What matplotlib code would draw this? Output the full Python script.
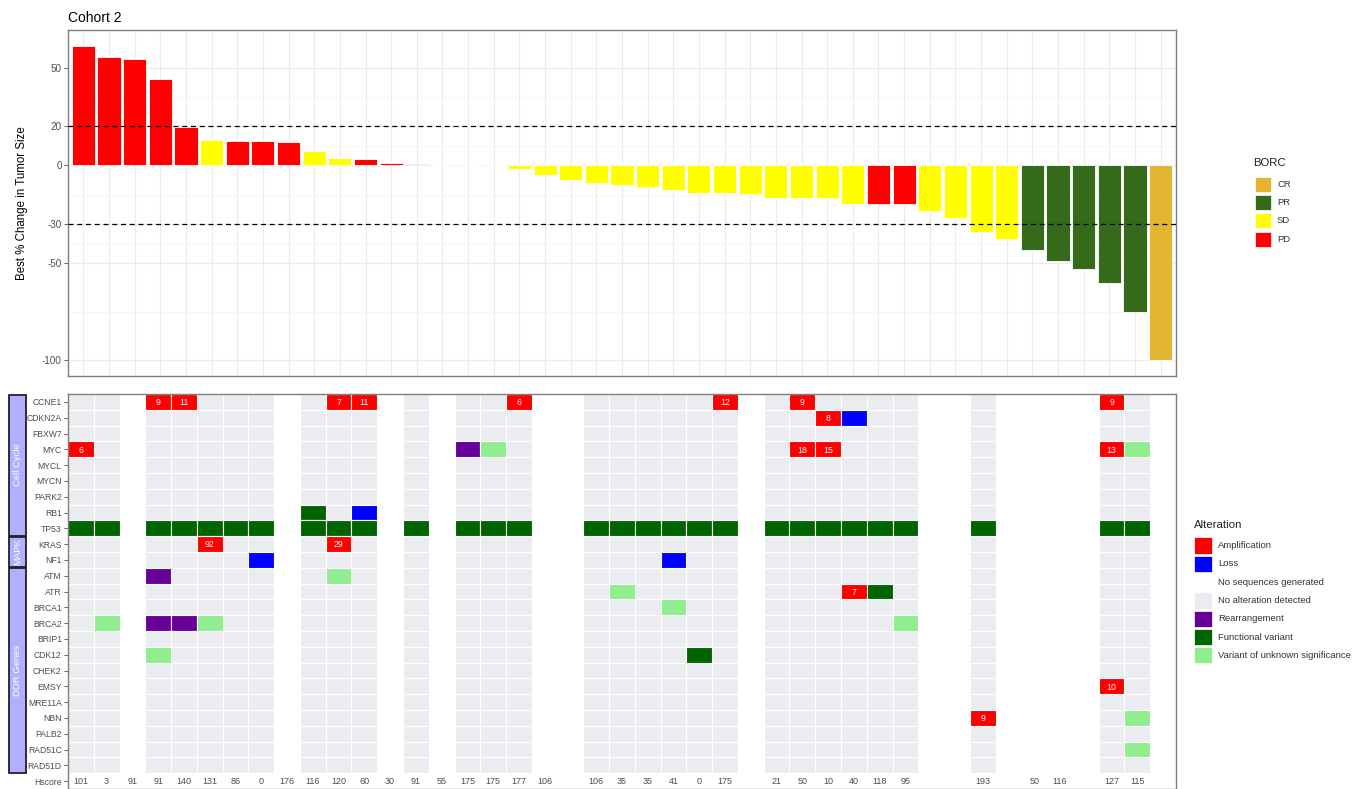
import matplotlib
matplotlib.use("Agg")
import matplotlib.pyplot as plt
from matplotlib.patches import Rectangle
import numpy as np

plt.rcParams['font.family'] = ['Liberation Sans', 'DejaVu Sans']

# ---------------- waterfall data ----------------
pct_change = [61.4, 55.8, 54.6, 44.2, 19.8, 13.0, 12.3, 12.3, 11.8, 7.3,
              3.9, 3.1, 1.2, 0.8, 0.0, 0.0, 0.0, -2.1, -5.1, -7.4,
              -8.9, -10.3, -11.3, -12.5, -14.1, -14.4, -14.6, -16.6, -16.6, -16.8,
              -19.7, -19.9, -19.7, -23.6, -27.1, -34.1, -37.9, -43.5, -49.0, -53.4,
              -60.5, -75.2, -100.0]
borc = ['PD', 'PD', 'PD', 'PD', 'PD', 'SD', 'PD', 'PD', 'PD', 'SD',
        'SD', 'PD', 'PD', 'PD', 'SD', 'SD', 'SD', 'SD', 'SD', 'SD',
        'SD', 'SD', 'SD', 'SD', 'SD', 'SD', 'SD', 'SD', 'SD', 'SD',
        'SD', 'PD', 'PD', 'SD', 'SD', 'SD', 'SD', 'PR', 'PR', 'PR',
        'PR', 'PR', 'CR']
borc_levels = ['CR', 'PR', 'SD', 'PD']
borc_colors = {'CR': '#E3B631', 'PR': '#356A1B', 'SD': '#FFFF00', 'PD': '#FF0000'}
y_breaks = [50, 20, 0, -30, -50, -100]
ref_lines = [20, -30]

# ---------------- alteration data ----------------
genes = ['CCNE1', 'CDKN2A', 'FBXW7', 'MYC', 'MYCL', 'MYCN', 'PARK2', 'RB1', 'TP53',
         'KRAS', 'NF1',
         'ATM', 'ATR', 'BRCA1', 'BRCA2', 'BRIP1', 'CDK12', 'CHEK2', 'EMSY', 'MRE11A',
         'NBN', 'PALB2', 'RAD51C', 'RAD51D']
pathways = [('Cell Cycle', 'CCNE1', 'TP53'), ('MAPK', 'KRAS', 'NF1'),
            ('DDR Genes', 'ATM', 'RAD51D')]
hscore = ['101', '3', '91', '91', '140', '131', '86', '0', '176', '116',
          '120', '60', '30', '91', '55', '175', '175', '177', '106', '',
          '106', '35', '35', '41', '0', '175', '', '21', '50', '10',
          '40', '118', '95', '', '', '193', '', '50', '116', '',
          '127', '115', '']
# patients with no sequencing result
not_sequenced = [2, 8, 12, 14, 18, 19, 26, 33, 34, 36, 37, 38, 39, 42]
# (patient, gene, alteration, copy number label)
alterations = [
    (0, 'MYC', 'Amplification', '6'), (0, 'TP53', 'Functional variant', ''),
    (1, 'TP53', 'Functional variant', ''), (1, 'BRCA2', 'Variant of unknown significance', ''),
    (3, 'CCNE1', 'Amplification', '9'), (3, 'TP53', 'Functional variant', ''),
    (3, 'ATM', 'Rearrangement', ''), (3, 'BRCA2', 'Rearrangement', ''),
    (3, 'CDK12', 'Variant of unknown significance', ''),
    (4, 'CCNE1', 'Amplification', '11'), (4, 'TP53', 'Functional variant', ''),
    (4, 'BRCA2', 'Rearrangement', ''),
    (5, 'TP53', 'Functional variant', ''), (5, 'KRAS', 'Amplification', '92'),
    (5, 'BRCA2', 'Variant of unknown significance', ''),
    (6, 'TP53', 'Functional variant', ''),
    (7, 'TP53', 'Functional variant', ''), (7, 'NF1', 'Loss', ''),
    (9, 'RB1', 'Functional variant', ''), (9, 'TP53', 'Functional variant', ''),
    (10, 'CCNE1', 'Amplification', '7'), (10, 'TP53', 'Functional variant', ''),
    (10, 'KRAS', 'Amplification', '29'), (10, 'ATM', 'Variant of unknown significance', ''),
    (11, 'CCNE1', 'Amplification', '11'), (11, 'RB1', 'Loss', ''),
    (11, 'TP53', 'Functional variant', ''),
    (13, 'TP53', 'Functional variant', ''),
    (15, 'MYC', 'Rearrangement', ''), (15, 'TP53', 'Functional variant', ''),
    (16, 'MYC', 'Variant of unknown significance', ''), (16, 'TP53', 'Functional variant', ''),
    (17, 'CCNE1', 'Amplification', '6'), (17, 'TP53', 'Functional variant', ''),
    (20, 'TP53', 'Functional variant', ''),
    (21, 'TP53', 'Functional variant', ''), (21, 'ATR', 'Variant of unknown significance', ''),
    (22, 'TP53', 'Functional variant', ''),
    (23, 'TP53', 'Functional variant', ''), (23, 'NF1', 'Loss', ''),
    (23, 'BRCA1', 'Variant of unknown significance', ''),
    (24, 'TP53', 'Functional variant', ''), (24, 'CDK12', 'Functional variant', ''),
    (25, 'CCNE1', 'Amplification', '12'), (25, 'TP53', 'Functional variant', ''),
    (27, 'TP53', 'Functional variant', ''),
    (28, 'CCNE1', 'Amplification', '9'), (28, 'MYC', 'Amplification', '18'),
    (28, 'TP53', 'Functional variant', ''),
    (29, 'CDKN2A', 'Amplification', '8'), (29, 'MYC', 'Amplification', '15'),
    (29, 'TP53', 'Functional variant', ''),
    (30, 'CDKN2A', 'Loss', ''), (30, 'TP53', 'Functional variant', ''),
    (30, 'ATR', 'Amplification', '7'),
    (31, 'TP53', 'Functional variant', ''), (31, 'ATR', 'Functional variant', ''),
    (32, 'TP53', 'Functional variant', ''), (32, 'BRCA2', 'Variant of unknown significance', ''),
    (35, 'TP53', 'Functional variant', ''), (35, 'NBN', 'Amplification', '9'),
    (40, 'CCNE1', 'Amplification', '9'), (40, 'MYC', 'Amplification', '13'),
    (40, 'TP53', 'Functional variant', ''), (40, 'EMSY', 'Amplification', '10'),
    (41, 'MYC', 'Variant of unknown significance', ''), (41, 'TP53', 'Functional variant', ''),
    (41, 'NBN', 'Variant of unknown significance', ''),
    (41, 'RAD51C', 'Variant of unknown significance', ''),
]
alt_levels = ['Amplification', 'Loss', 'No sequences generated', 'No alteration detected',
              'Rearrangement', 'Functional variant', 'Variant of unknown significance']
alt_colors = {'Amplification': '#FF0000', 'Loss': '#0000FF',
              'No sequences generated': '#FFFFFF', 'No alteration detected': '#EAECEF',
              'Rearrangement': '#660099', 'Functional variant': '#006400',
              'Variant of unknown significance': '#90EE90'}

# ---------------- figure ----------------
W, H = 1367, 789
fig = plt.figure(figsize=(W / 100, H / 100), dpi=100)


def px_axes(left, top, right, bottom):
    return fig.add_axes([left / W, 1 - bottom / H, (right - left) / W, (bottom - top) / H])


grey_txt = '#4D4D4D'
border = '#7F7F7F'

# ---- waterfall ----
ax = px_axes(68, 30, 1176, 376)
n = len(pct_change)
x = np.arange(n)
ax.bar(x, pct_change, width=0.9, color=[borc_colors[b] for b in borc],
       edgecolor='white', linewidth=0.6, zorder=3)
for r in ref_lines:
    ax.axhline(r, color='black', linestyle=(0, (4, 3)), linewidth=0.9, zorder=4)
lo, hi = min(pct_change), max(pct_change)
span = hi - lo
ax.set_ylim(lo - 0.05 * span, hi + 0.05 * span)
ax.set_xlim(-0.6, n - 0.4)
ax.set_yticks(y_breaks)
ax.set_yticklabels([str(v) for v in y_breaks])
sb = sorted(y_breaks)
ax.set_yticks([(a + b) / 2 for a, b in zip(sb[:-1], sb[1:])], minor=True)
ax.set_xticks(x)
ax.set_xticklabels([])
ax.tick_params(axis='x', length=0)
ax.tick_params(axis='y', which='major', length=3, width=0.6, color=grey_txt,
               labelsize=7.1, labelcolor=grey_txt, pad=1.5)
ax.tick_params(axis='y', which='minor', length=0)
ax.grid(True, which='major', color='#EBEBEB', linewidth=0.8, zorder=0)
ax.grid(True, which='minor', axis='y', color='#F3F3F3', linewidth=0.5, zorder=0)
ax.set_axisbelow(True)
for s in ax.spines.values():
    s.set_color(border)
    s.set_linewidth(1.0)
ax.set_ylabel('Best % Change in Tumor Size', fontsize=8.3, color='black')
ax.yaxis.set_label_coords((28 - 68) / 1108, 0.5)
ax.set_title('Cohort 2', loc='left', fontsize=10, pad=6)

# ---- alteration heatmap ----
hm = px_axes(68, 394, 1176, 789)
rows = genes + ['Hscore']
gidx = {g: i for i, g in enumerate(genes)}
for p in range(n):
    base = 'No sequences generated' if p in not_sequenced else 'No alteration detected'
    for g in genes:
        hm.add_patch(Rectangle((p - 0.5, gidx[g] - 0.5), 1, 1, facecolor=alt_colors[base],
                               edgecolor='white', linewidth=0.8, zorder=1))
for p, g, a, lab in alterations:
    hm.add_patch(Rectangle((p - 0.5, gidx[g] - 0.5), 1, 1, facecolor=alt_colors[a],
                           edgecolor='white', linewidth=0.8, zorder=2))
    if lab:
        hm.text(p, gidx[g] + 0.05, lab, ha='center', va='center', color='white',
                fontsize=6.3, zorder=3)
for p, h in enumerate(hscore):
    if h:
        hm.text(p, len(genes) + 0.05, h, ha='center', va='center', color=grey_txt,
                fontsize=6.5, zorder=3)
hm.set_xlim(-0.5, n - 0.5)
hm.set_ylim(len(rows) - 0.5, -0.5)
hm.set_yticks(range(len(rows)))
hm.set_yticklabels(rows)
hm.set_xticks([])
hm.tick_params(axis='y', length=3, width=0.6, color=grey_txt, labelsize=6.2,
               labelcolor=grey_txt, pad=1.5)
for s in hm.spines.values():
    s.set_color(border)
    s.set_linewidth(1.0)

# ---- pathway strips ----
st = px_axes(8, 394, 27, 789)
st.set_ylim(hm.get_ylim())
st.set_xlim(0, 1)
st.axis('off')
for name, g0, g1 in pathways:
    y0, y1 = gidx[g0] - 0.5, gidx[g1] + 0.5
    st.add_patch(Rectangle((0.04, y0 + 0.04), 0.92, (y1 - y0) - 0.08, facecolor='#B0B0FF',
                           edgecolor='#1E1E2E', linewidth=1.3, clip_on=False))
    st.text(0.5, (y0 + y1) / 2, name, rotation=90, ha='center', va='center',
            color='white', fontsize=6.8)

# ---- legends ----
lg = fig.add_axes([0, 0, 1, 1])
lg.set_xlim(0, W)
lg.set_ylim(H, 0)
lg.axis('off')
lg.patch.set_visible(False)
legend_txt = '#333333'

lg.text(1253, 163, 'BORC', fontsize=8.2, va='center', ha='left', color='#222222')
for i, lev in enumerate(borc_levels):
    yc = 184 + 18.4 * i
    lg.add_patch(Rectangle((1255, yc - 7.5), 15.5, 15, facecolor=borc_colors[lev],
                           edgecolor='white', linewidth=0.5))
    lg.text(1277, yc, lev, fontsize=6.8, va='center', ha='left', color=legend_txt)

lg.text(1194, 525, 'Alteration', fontsize=8.2, va='center', ha='left', color='#222222')
for i, lev in enumerate(alt_levels):
    yc = 545.5 + 18.3 * i
    lg.add_patch(Rectangle((1194, yc - 8.2), 17.5, 16.4, facecolor=alt_colors[lev],
                           edgecolor='white', linewidth=0.5))
    lg.text(1218, yc, lev, fontsize=6.8, va='center', ha='left', color=legend_txt)

fig.savefig('out.png', dpi=100)
